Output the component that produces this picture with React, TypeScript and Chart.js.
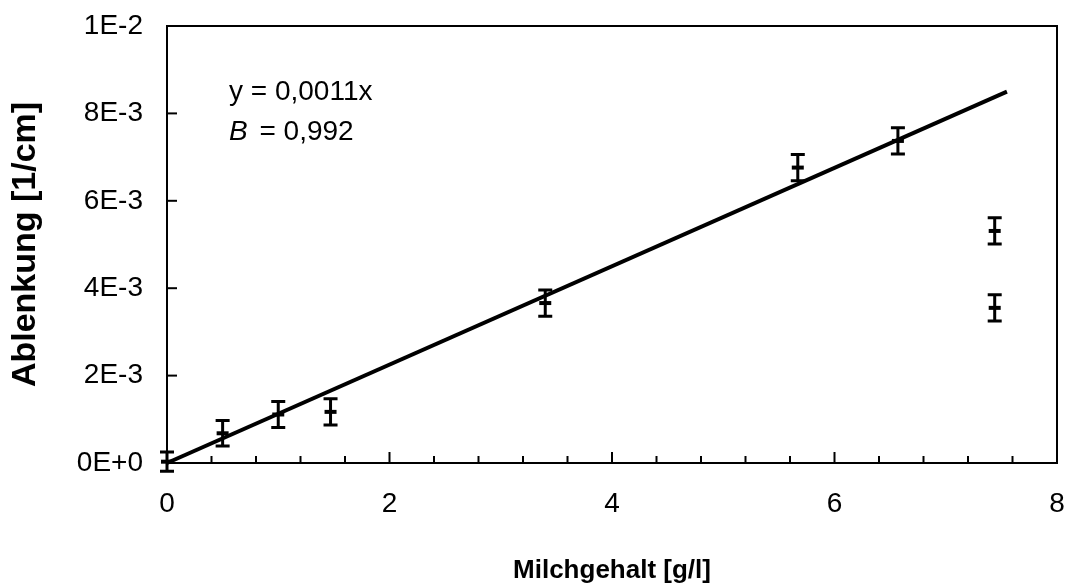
import React, { useEffect, useRef } from "react";
import { Chart, registerables } from "chart.js";

Chart.register(...registerables);

// ---- data ----
const xValues = [0, 0.5, 1.0, 1.47, 3.4, 5.67, 6.57, 7.44, 7.44];
const yValues = [0.00003, 0.00068, 0.00111, 0.00117, 0.00366, 0.00676, 0.00737, 0.00531, 0.00355];
const yErrors = [0.00022, 0.00029, 0.0003, 0.0003, 0.0003, 0.0003, 0.0003, 0.0003, 0.0003];
const trendX = [0, 7.55];
const trendY = [0, 0.0085];
const xTitle = "Milchgehalt [g/l]";
const yTitle = "Ablenkung [1/cm]";
const eqLine1 = "y = 0,0011x";
const eqSymbol = "B";
const eqRest = " = 0,992";

const FONT = "'Liberation Sans', Arial, sans-serif";

function isMultiple(v: number, m: number) {
  return Math.abs(v / m - Math.round(v / m)) < 1e-6;
}

function sci(v: number) {
  if (Math.abs(v) < 1e-12) return "0E+0";
  const e = Math.floor(Math.log10(Math.abs(v)) + 1e-9);
  const m = Math.round(v / Math.pow(10, e));
  return `${m}E${e < 0 ? "-" : "+"}${Math.abs(e)}`;
}

const noPad = (s: any) => {
  s.paddingTop = 0;
  s.paddingBottom = 0;
  s.paddingLeft = 0;
  s.paddingRight = 0;
};

const decor = {
  id: "decor",
  afterDatasetsDraw(chart: any) {
    const { ctx, scales } = chart;
    const x = scales.x;
    const y = scales.y;
    ctx.save();
    ctx.strokeStyle = "#000";
    ctx.lineWidth = 3;
    for (let i = 0; i < xValues.length; i++) {
      const px = x.getPixelForValue(xValues[i]);
      const pTop = y.getPixelForValue(yValues[i] + yErrors[i]);
      const pBot = y.getPixelForValue(yValues[i] - yErrors[i]);
      ctx.beginPath();
      ctx.moveTo(px, pTop);
      ctx.lineTo(px, pBot);
      ctx.moveTo(px - 7, pTop);
      ctx.lineTo(px + 7, pTop);
      ctx.moveTo(px - 7, pBot);
      ctx.lineTo(px + 7, pBot);
      ctx.stroke();
    }
    ctx.restore();
  },
  afterDraw(chart: any) {
    const { ctx, chartArea, scales } = chart;
    const { left, right, top, bottom } = chartArea;
    const x = scales.x;
    const y = scales.y;
    ctx.save();
    ctx.strokeStyle = "#000";
    ctx.lineWidth = 2;
    ctx.strokeRect(left, top, right - left, bottom - top);
    x.ticks.forEach((t: any) => {
      const px = x.getPixelForValue(t.value);
      const major = isMultiple(t.value, 2);
      ctx.beginPath();
      ctx.moveTo(px, bottom);
      ctx.lineTo(px, bottom - (major ? 11 : 7));
      ctx.stroke();
    });
    y.ticks.forEach((t: any) => {
      const py = y.getPixelForValue(t.value);
      ctx.beginPath();
      ctx.moveTo(left, py);
      ctx.lineTo(left + 10, py);
      ctx.stroke();
    });
    // regression text
    ctx.fillStyle = "#000";
    ctx.textBaseline = "alphabetic";
    ctx.textAlign = "left";
    ctx.font = `28px ${FONT}`;
    ctx.fillText(eqLine1, 229, 100);
    ctx.font = `italic 28px ${FONT}`;
    ctx.fillText(eqSymbol, 229, 140);
    const w = ctx.measureText(eqSymbol).width;
    ctx.font = `28px ${FONT}`;
    ctx.fillText(eqRest, 229 + w + 4, 140);
    ctx.restore();
  },
};

export default function App() {
  const ref = useRef<HTMLCanvasElement>(null);
  useEffect(() => {
    if (!ref.current) return;
    const chart = new Chart(ref.current, {
      type: "scatter",
      data: {
        datasets: [
          {
            type: "line",
            label: "trend",
            data: trendX.map((v, i) => ({ x: v, y: trendY[i] })),
            borderColor: "#000",
            borderWidth: 4,
            pointRadius: 0,
            fill: false,
            clip: false,
          } as any,
          {
            label: "data",
            data: xValues.map((v, i) => ({ x: v, y: yValues[i] })),
            pointStyle: "line",
            pointRadius: 6,
            borderColor: "#000",
            backgroundColor: "#000",
            pointBorderWidth: 4,
            clip: false,
          } as any,
        ],
      },
      plugins: [decor],
      options: {
        animation: false,
        responsive: false,
        layout: { padding: { left: 0, right: 12, top: 26, bottom: 0 } },
        plugins: { legend: { display: false }, tooltip: { enabled: false } },
        scales: {
          x: {
            type: "linear",
            min: 0,
            max: 8,
            border: { display: false },
            grid: { display: false, drawTicks: false },
            ticks: {
              stepSize: 0.4,
              autoSkip: false,
              maxRotation: 0,
              padding: 24,
              color: "#000",
              font: { family: FONT, size: 28 },
              callback: (v: any) => (isMultiple(Number(v), 2) ? String(Math.round(Number(v))) : ""),
            },
            title: {
              display: true,
              text: xTitle,
              color: "#000",
              font: { family: FONT, size: 26, weight: "bold" },
              padding: { top: 0, bottom: 0 },
            },
            afterFit: (s: any) => {
              s.height = 586 - 463;
              noPad(s);
            },
          },
          y: {
            type: "linear",
            min: 0,
            max: 0.01,
            border: { display: false },
            grid: { display: false, drawTicks: false },
            ticks: {
              stepSize: 0.002,
              padding: 24,
              color: "#000",
              font: { family: FONT, size: 28 },
              callback: (v: any) => sci(Number(v)),
            },
            title: {
              display: true,
              text: yTitle,
              color: "#000",
              font: { family: FONT, size: 34, weight: "bold" },
              padding: { top: 5, bottom: 0 },
            },
            afterFit: (s: any) => {
              s.width = 167;
              noPad(s);
            },
          },
        },
      },
    });
    return () => chart.destroy();
  }, []);
  return (
    <div style={{ position: "fixed", left: 0, top: 0, width: 1069, height: 586, background: "#fff" }}>
      <canvas ref={ref} width={1069} height={586} />
    </div>
  );
}
